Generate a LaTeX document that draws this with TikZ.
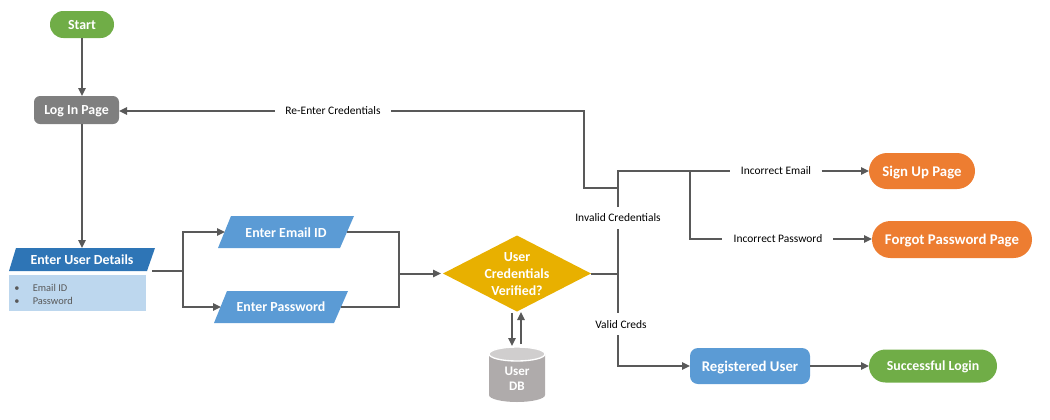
\documentclass[tikz,border=0pt]{standalone}
\usepackage{fontspec}
\setmainfont{Carlito}
\usetikzlibrary{shapes.geometric,arrows.meta}
\definecolor{linegray}{HTML}{595959}
\definecolor{cgreen}{HTML}{70AD47}
\definecolor{cgray}{HTML}{7F7F7F}
\definecolor{cblue}{HTML}{5B9BD5}
\definecolor{cdark}{HTML}{2E75B6}
\definecolor{clight}{HTML}{BDD7EE}
\definecolor{cgold}{HTML}{E8B000}
\definecolor{corange}{HTML}{ED7D31}
\definecolor{cdb}{HTML}{AFABAB}
\definecolor{cdbtop}{HTML}{D0CECE}
\tikzset{
  title/.style={text=white,font=\bfseries\fontsize{10.4pt}{12.5pt}\selectfont,align=center,inner sep=0pt,outer sep=0pt},
  bigtitle/.style={title,font=\bfseries\fontsize{11.1pt}{13pt}\selectfont,text depth=0pt},
  lab/.style={font=\fontsize{8.6pt}{10pt}\selectfont,text=black,inner ysep=0pt},
  labx/.style={lab,inner xsep=8pt,outer sep=0pt},
  conn/.style={draw=linegray,line width=1.5pt},
  arr/.style={conn,-{Triangle[length=6pt,width=5.5pt]}},
}
\begin{document}
\begin{tikzpicture}[x=0.75pt,y=-0.75pt]
\useasboundingbox (0,0) rectangle (1050,419);
% shapes
\node[title,fill=cgreen,rounded corners=10pt,minimum width=48pt,minimum height=20.25pt] (start) at (82,24.5) {Start};
\node[title,text depth=0pt,fill=cgray,rounded corners=4.5pt,minimum width=63.75pt,minimum height=21pt] (login) at (76.5,110) {Log In Page};
\fill[cdark] (9,271) -- (16,248) -- (155,248) -- (147,271) -- cycle;
\node[title] (details) at (82,259.5) {Enter User Details};
\coordinate (detailstop) at (82,248);
\node[fill=clight,minimum width=102.75pt,minimum height=27pt,inner sep=0pt,outer sep=0pt] (detailbox) at (77.5,293) {};
\node[font=\fontsize{7.8pt}{9.8pt}\selectfont,text=linegray,align=left,inner sep=0pt,anchor=west] (bullets) at (14,294.5) {•\hspace{10pt}Email ID\\•\hspace{10pt}Password};
\fill[cblue] (218,248) -- (231,216) -- (354,216) -- (340,248) -- cycle;
\node[title] (email) at (286,232.5) {Enter Email ID};
\coordinate (emailin) at (225,232);
\coordinate (emailout) at (347,232);
\fill[cblue] (214,323) -- (227,291) -- (348,291) -- (334,323) -- cycle;
\node[title,text depth=0pt] (pass) at (281,307) {Enter Password};
\coordinate (passin) at (221,307);
\coordinate (passout) at (341,307);
\node[diamond,aspect=1.95,fill=cgold,minimum width=111pt,minimum height=57pt,inner sep=0pt,outer sep=0pt] (verify) at (517,273.5) {};
\node[title,font=\bfseries\fontsize{10.4pt}{12.75pt}\selectfont] (verifytext) at (517,274.5) {User\\Credentials\\Verified?};
\fill[cdb] (489,354) -- (545,354) -- (545,395) arc[start angle=0,end angle=180,x radius=28,y radius=7] -- cycle;
\filldraw[fill=cdbtop,draw=white,line width=1pt] (517,354) ellipse [x radius=28,y radius=7];
\node[title,font=\bfseries\fontsize{9.8pt}{11.4pt}\selectfont] (db) at (517,379) {User\\DB};
\node[bigtitle,fill=corange,rounded corners=13.5pt,minimum width=79.5pt,minimum height=27pt] (signup) at (922,171) {Sign Up Page};
\node[bigtitle,fill=corange,rounded corners=13.8pt,minimum width=120pt,minimum height=27.75pt] (forgot) at (952,239.5) {Forgot Password Page};
\node[bigtitle,fill=cblue,rounded corners=6pt,minimum width=90pt,minimum height=27pt] (reg) at (750,366) {Registered User};
\node[title,text depth=0pt,fill=cgreen,rounded corners=12.3pt,minimum width=96pt,minimum height=24.75pt] (success) at (933,366) {Successful Login};
% labels
\node[labx] (reenter) at (333,111) {Re-Enter Credentials};
\node[lab,inner sep=0pt] (invalid) at (618,218) {Invalid Credentials};
\node[lab,inner sep=0pt] (valid) at (621,325) {Valid Creds};
\node[labx] (incemail) at (776,171) {Incorrect Email};
\node[lab,inner sep=0pt] (incpass) at (778,238.5) {Incorrect Password};
% junctions
\coordinate (dout) at (152,271);
\coordinate (dj) at (183,271);
\coordinate (mj) at (399,273.5);
\coordinate (mend) at (441,273.5);
\coordinate (vj) at (618,273.5);
\coordinate (top) at (618,171);
\coordinate (back) at (618,188);
\coordinate (backc) at (584,188);
\coordinate (pj) at (690,171);
\coordinate (pstart) at (722,239);
\coordinate (pout) at (833,239);
\coordinate (inva) at (618,229);
\coordinate (invb) at (618,207);
\coordinate (vala) at (618,313);
\coordinate (valb) at (618,335);
\coordinate (dbda) at (512,313);
\coordinate (dbdb) at (512,346);
\coordinate (dbua) at (521,344);
\coordinate (dbub) at (521,312);
% connectors
\draw[arr] (start) -- (start|-login.north);
\draw[arr] (login.south-|start) -- (detailstop);
\draw[conn] (dout) -- (dj);
\draw[arr] (dj) |- (emailin);
\draw[arr] (dj) |- (passin);
\draw[conn] (emailout) -| (mj);
\draw[conn] (passout) -| (mj);
\draw[arr] (mj) -- (mend);
\draw[conn] (verify.east) -- (vj);
\draw[conn] (vj) -- (inva);
\draw[conn] (invb) -- (top) -- (incemail.west);
\draw[arr] (incemail.east) -- (signup);
\draw[conn] (back) -- (backc) |- (reenter.east);
\draw[arr] (reenter.west) -- (login.east|-reenter);
\draw[conn] (pj) |- (pstart);
\draw[arr] (pout) -- (forgot.west|-pout);
\draw[conn] (vj) -- (vala);
\draw[arr] (valb) |- (reg.west);
\draw[arr] (reg) -- (success);
\draw[arr] (dbda) -- (dbdb);
\draw[arr] (dbua) -- (dbub);
\end{tikzpicture}
\end{document}
